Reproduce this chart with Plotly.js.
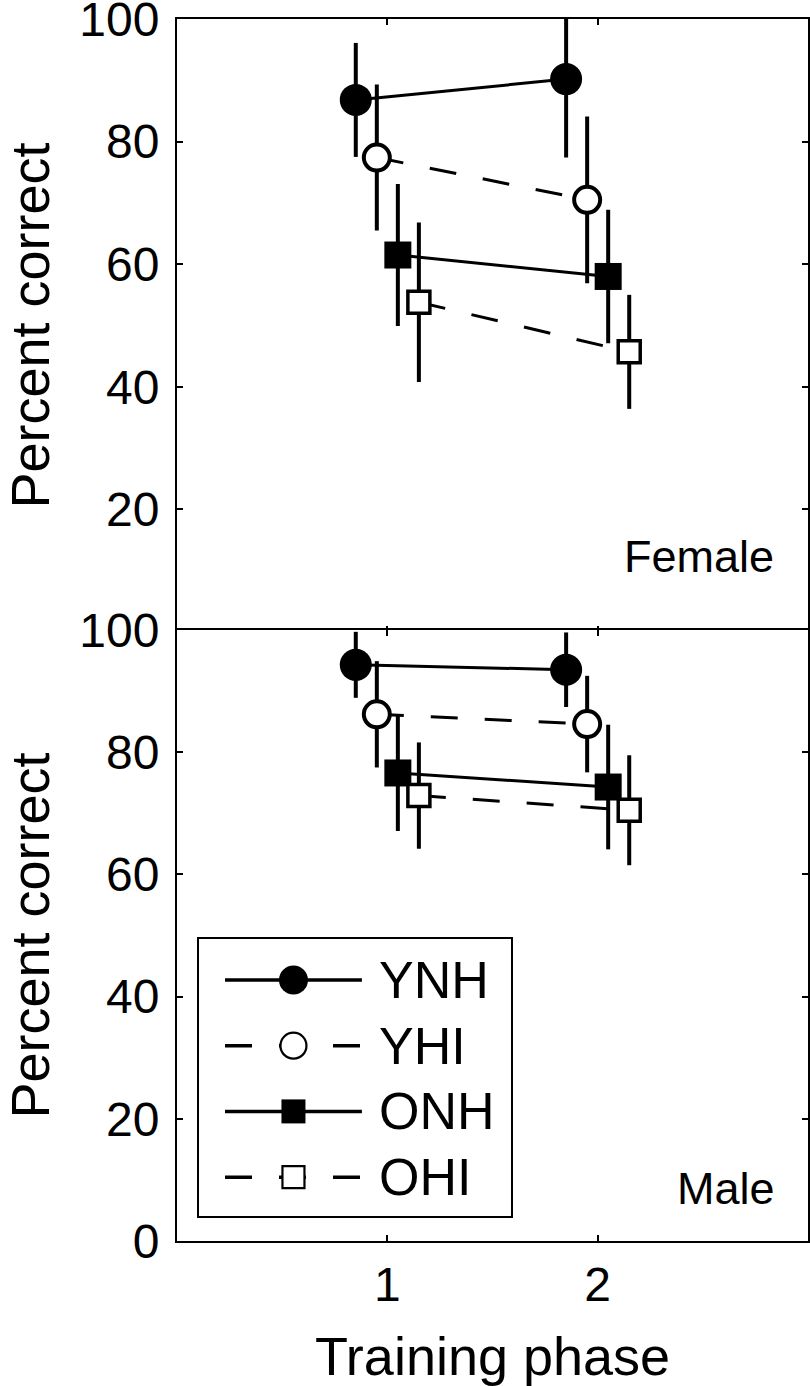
<!DOCTYPE html>
<html>
<head>
<meta charset="utf-8">
<script src="https://cdn.plot.ly/plotly-3.0.1.min.js"></script>
<style>html,body{margin:0;padding:0;background:#fff;}#chart{width:810px;height:1386px;}</style>
</head>
<body>
<div id="chart"></div>
<script>
// ---- data ----
var phases = [1, 2];
var phaseLabels = ['1', '2'];
var groups = ['YNH', 'YHI', 'ONH', 'OHI'];

var femaleYNH = [86.8, 90.2];
var femaleYHI = [77.4, 70.5];
var femaleONH = [61.5, 58.0];
var femaleOHI = [53.8, 45.7];
var femaleYNHerr = [9.3, 12.8];
var femaleYHIerr = [11.9, 13.6];
var femaleONHerr = [11.6, 10.9];
var femaleOHIerr = [13.0, 9.3];

var maleYNH = [94.3, 93.5];
var maleYHI = [86.2, 84.6];
var maleONH = [76.6, 74.3];
var maleOHI = [72.9, 70.5];
var maleYNHerr = [5.4, 6.1];
var maleYHIerr = [8.7, 7.9];
var maleONHerr = [9.5, 10.2];
var maleOHIerr = [8.7, 9.0];

var femaleTicks = [20, 40, 60, 80, 100];
var maleTicks = [0, 20, 40, 60, 80, 100];

// ---- styling ----
var dodge = {YNH: -0.15, YHI: -0.05, ONH: 0.05, OHI: 0.15};
var styles = {
  YNH: {dash: 'solid', marker: {symbol: 'circle', size: 32, color: 'black', line: {width: 0, color: 'black'}},
        legMarker: {symbol: 'circle', size: 29, color: 'black', line: {width: 0, color: 'black'}}},
  YHI: {dash: '27px,27px', marker: {symbol: 'circle', size: 26, color: 'white', line: {width: 4, color: 'black'}},
        legMarker: {symbol: 'circle', size: 26, color: 'white', line: {width: 2.2, color: 'black'}}},
  ONH: {dash: 'solid', marker: {symbol: 'square', size: 27, color: 'black', line: {width: 0, color: 'black'}},
        legMarker: {symbol: 'square', size: 24, color: 'black', line: {width: 0, color: 'black'}}},
  OHI: {dash: '27px,27px', marker: {symbol: 'square', size: 22, color: 'white', line: {width: 3.5, color: 'black'}},
        legMarker: {symbol: 'square', size: 22, color: 'white', line: {width: 2.2, color: 'black'}}}
};

var female = {YNH: [femaleYNH, femaleYNHerr], YHI: [femaleYHI, femaleYHIerr], ONH: [femaleONH, femaleONHerr], OHI: [femaleOHI, femaleOHIerr]};
var male = {YNH: [maleYNH, maleYNHerr], YHI: [maleYHI, maleYHIerr], ONH: [maleONH, maleONHerr], OHI: [maleOHI, maleOHIerr]};

var traces = [];
function addPanel(set, xa, ya) {
  groups.forEach(function (g) {
    var st = styles[g];
    traces.push({
      type: 'scatter', mode: 'lines+markers', name: g,
      x: phases.map(function (p) { return p + dodge[g]; }),
      y: set[g][0],
      xaxis: xa, yaxis: ya,
      showlegend: false,
      line: {color: 'black', width: 3, dash: st.dash},
      marker: st.marker,
      error_y: {type: 'data', array: set[g][1], visible: true, color: 'black', thickness: 4, width: 0}
    });
  });
}
addPanel(female, 'x', 'y');
addPanel(male, 'x2', 'y2');

// ---- legend box (drawn on its own hidden axes, one row per group) ----
var LEG_LINE_START = 0.086, LEG_MARK = 0.304, LEG_LINE_END = 0.522, LEG_TEXT = 0.57;
var FONT = 'Liberation Sans, Arial, Helvetica, sans-serif';
var legendAnnotations = [];
groups.forEach(function (g, i) {
  var st = styles[g];
  var lm = Object.assign({}, st.legMarker, {opacity: [0, 1, 0]});
  traces.push({
    type: 'scatter', mode: 'lines+markers', name: g + ' (legend)',
    x: [LEG_LINE_START, LEG_MARK, LEG_LINE_END], y: [i, i, i],
    xaxis: 'x3', yaxis: 'y3', showlegend: false, hoverinfo: 'skip',
    line: {color: 'black', width: 3.5, dash: st.dash},
    marker: lm
  });
  legendAnnotations.push({xref: 'x3', yref: 'y3', x: LEG_TEXT, y: i, xanchor: 'left', yanchor: 'middle',
    showarrow: false, text: g, font: {family: FONT, size: 52, color: 'black'}});
});

var axisCommon = {
  showline: true, linecolor: 'black', linewidth: 2, mirror: 'ticks',
  ticks: 'inside', ticklen: 6, tickwidth: 2, tickcolor: 'black', ticklabeloverflow: 'allow',
  showgrid: false, zeroline: false, tickfont: {family: FONT, size: 48, color: 'black'}
};
var titleFont = {family: FONT, size: 54, color: 'black'};

var layout = {
  width: 810, height: 1386,
  margin: {l: 177, r: 2, t: 19, b: 145},
  paper_bgcolor: 'white', plot_bgcolor: 'white',
  font: {family: FONT, color: 'black'},
  showlegend: false,
  xaxis: Object.assign({}, axisCommon, {domain: [0, 1], range: [0, 3], anchor: 'y', tickvals: phases, ticktext: phaseLabels, showticklabels: false}),
  yaxis: Object.assign({}, axisCommon, {domain: [0.49836, 1], range: [0, 100], anchor: 'x', tickvals: femaleTicks, ticklabelstandoff: 6,
    title: {text: 'Percent correct', font: titleFont, standoff: 46}}),
  xaxis2: Object.assign({}, axisCommon, {domain: [0, 1], range: [0, 3], anchor: 'y2', tickvals: phases, ticktext: phaseLabels, ticklabelstandoff: 0,
    title: {text: 'Training phase', font: titleFont, standoff: 34}}),
  yaxis2: Object.assign({}, axisCommon, {domain: [0, 0.5], range: [0, 100], anchor: 'x2', tickvals: maleTicks, ticklabelstandoff: 6,
    title: {text: 'Percent correct', font: titleFont, standoff: 46}}),
  xaxis3: {domain: [0.0333, 0.5309], range: [0, 1], anchor: 'y3', visible: false, fixedrange: true},
  yaxis3: {domain: [0.0196, 0.2480], range: [3.607, -0.639], anchor: 'x3', visible: false, fixedrange: true},
  shapes: [
    {type: 'rect', xref: 'x3 domain', yref: 'y3 domain', x0: 0, x1: 1, y0: 0, y1: 1,
     line: {color: 'black', width: 2}, fillcolor: 'rgba(0,0,0,0)', layer: 'above'}
  ],
  annotations: [
    {xref: 'paper', yref: 'paper', x: 0.949, y: 0.5605, xanchor: 'right', yanchor: 'middle', showarrow: false,
     text: 'Female', font: {family: FONT, size: 45, color: 'black'}},
    {xref: 'paper', yref: 'paper', x: 0.951, y: 0.0426, xanchor: 'right', yanchor: 'middle', showarrow: false,
     text: 'Male', font: {family: FONT, size: 45, color: 'black'}}
  ].concat(legendAnnotations)
};

Plotly.newPlot('chart', traces, layout, {displayModeBar: false, staticPlot: true});
</script>
</body>
</html>
